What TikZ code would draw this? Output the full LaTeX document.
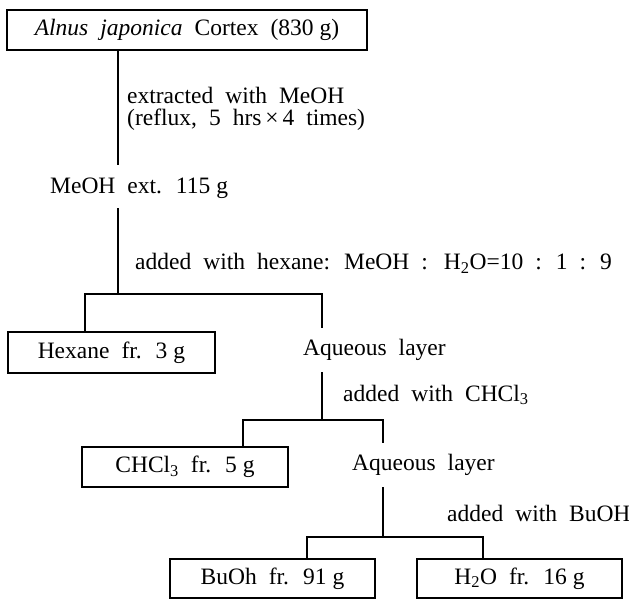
\documentclass[tikz,border=0pt]{standalone}
\usepackage{fontspec}
\setmainfont{Liberation Serif}
\newcommand\ns{\hspace{6pt}}
\begin{document}
\begin{tikzpicture}[x=1pt,y=-1pt,
  txt/.style={font={\fontsize{23.5}{28}\selectfont\spaceskip=12pt\relax}, inner sep=0pt},
  box/.style={txt, draw, line width=1.4pt, minimum height=40pt, anchor=center},
  lbl/.style={txt, anchor=west},
  link/.style={line width=1.4pt}]
\useasboundingbox (0,0) rectangle (629,599);
% boxes
\node[box, minimum width=360pt] (top) at (187,30) {\textit{Alnus japonica} Cortex (830\ns g)};
\node[box, minimum width=207pt, minimum height=41pt] (hex) at (111.5,352.5) {Hexane fr. 3\ns g};
\node[box, minimum width=206pt] (chc) at (185,467) {CHCl\textsubscript{3} fr. 5\ns g};
\node[box, minimum width=205pt, minimum height=39pt] (buoh) at (272.5,578.5) {BuOh fr. 91\ns g};
\node[box, minimum width=205pt, minimum height=39pt] (h2o) at (519.5,578.5) {H\textsubscript{2}O fr. 16\ns g};
% texts
\node[lbl, align=left, font={\fontsize{23.5}{22.5}\selectfont\spaceskip=12pt\relax}] (ext) at (127,109)
  {extracted with MeOH\\(reflux, 5 hrs\,×\,4 times)};
\node[lbl] (meoh) at (50,188) {MeOH ext. 115\ns g};
\node[lbl] (addhex) at (135,263) {added with hexane: MeOH :\hspace{16pt}H\textsubscript{2}O=10 : 1 : 9};
\node[lbl] (aq1) at (303,350) {Aqueous layer};
\node[lbl] (addchc) at (343,395) {added with CHCl\textsubscript{3}};
\node[lbl] (aq2) at (352,465) {Aqueous layer};
\node[lbl] (addbu) at (447,513) {added with BuOH};
% junction coordinates
\coordinate (c1) at (118,165);
\coordinate (c2) at (118,208);
\coordinate (j1) at (118,294);
\coordinate (j1L) at (85,294);
\coordinate (j1R) at (322,294);
\coordinate (a1) at (322,328);
\coordinate (c3) at (322,372);
\coordinate (j2) at (322,420);
\coordinate (j2L) at (243,420);
\coordinate (j2R) at (383,420);
\coordinate (a2) at (383,443);
\coordinate (c4) at (383,487);
\coordinate (j3) at (383,537);
\coordinate (j3L) at (307,537);
\coordinate (j3R) at (483,537);
% connectors
\draw[link] (top.south -| c1) -- (c1);
\draw[link] (c2) -- (j1);
\draw[link] (hex.north -| j1L) -- (j1L) -- (j1R) -- (a1);
\draw[link] (c3) -- (j2);
\draw[link] (chc.north -| j2L) -- (j2L) -- (j2R) -- (a2);
\draw[link] (c4) -- (j3);
\draw[link] (buoh.north -| j3L) -- (j3L) -- (j3R) -- (h2o.north -| j3R);
\end{tikzpicture}
\end{document}
